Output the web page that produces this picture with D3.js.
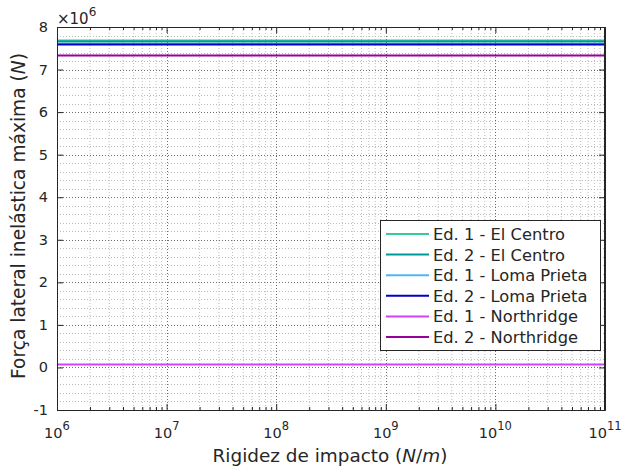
<!DOCTYPE html>
<html>
<head>
<meta charset="utf-8">
<script src="https://cdn.jsdelivr.net/npm/d3@7"></script>
<style>
  body { margin: 0; background: #fff; }
  text { font-family: "DejaVu Sans", Verdana, sans-serif; fill: #262626; }
</style>
</head>
<body>
<script>
// impact stiffness vs max inelastic lateral force, values in units of 1e6 N
var stiffness = [1e6, 1e7, 1e8, 1e9, 1e10, 1e11];
var seriesNames = ["Ed. 1 - El Centro", "Ed. 2 - El Centro", "Ed. 1 - Loma Prieta",
                   "Ed. 2 - Loma Prieta", "Ed. 1 - Northridge", "Ed. 2 - Northridge"];
var seriesColors = ["#33cc99", "#009999", "#4db8f0", "#0000cc", "#cc44ff", "#990099"];
var ed1ElCentro = [7.68, 7.68, 7.68, 7.68, 7.68, 7.68];
var ed2ElCentro = [7.66, 7.66, 7.66, 7.66, 7.66, 7.66];
var ed1LomaPrieta = [7.60, 7.60, 7.60, 7.60, 7.60, 7.60];
var ed2LomaPrieta = [7.59, 7.59, 7.59, 7.59, 7.59, 7.59];
var ed1Northridge = [0.07, 0.07, 0.07, 0.07, 0.07, 0.07];
var ed2Northridge = [7.33, 7.33, 7.33, 7.33, 7.33, 7.33];
var yTicks = [-1, 0, 1, 2, 3, 4, 5, 6, 7, 8];
var xTicks = [1e6, 1e7, 1e8, 1e9, 1e10, 1e11];

var series = [ed1ElCentro, ed2ElCentro, ed1LomaPrieta, ed2LomaPrieta, ed1Northridge, ed2Northridge];

var W = 621, H = 467;
var m = {left: 57, right: 16, top: 27, bottom: 57};
var iw = W - m.left - m.right, ih = H - m.top - m.bottom;

var svg = d3.select('body').append('svg').attr('width', W).attr('height', H);

var x = d3.scaleLog().domain([1e6, 1e11]).range([m.left, m.left + iw]);
var y = d3.scaleLinear().domain([-1, 8]).range([m.top + ih, m.top]);

var g = svg.append('g');

// minor ticks / grid values
var xMinor = [];
for (var e = 6; e < 11; e++) {
  for (var k = 2; k <= 9; k++) xMinor.push(k * Math.pow(10, e));
}
var yMinor = [];
for (var v = -1; v < 8; v++) {
  for (var j = 1; j <= 4; j++) yMinor.push(v + j * 0.2);
}

// minor grid
g.selectAll('.xminor').data(xMinor).enter().append('line')
  .attr('x1', function (d) { return x(d); }).attr('x2', function (d) { return x(d); })
  .attr('y1', m.top).attr('y2', m.top + ih)
  .attr('stroke', '#bdbdbd').attr('stroke-width', 1).attr('stroke-dasharray', '1,2');
g.selectAll('.yminor').data(yMinor).enter().append('line')
  .attr('y1', function (d) { return Math.round(y(d)) + 0.5; }).attr('y2', function (d) { return Math.round(y(d)) + 0.5; })
  .attr('x1', m.left).attr('x2', m.left + iw)
  .attr('stroke', '#bdbdbd').attr('stroke-width', 1).attr('stroke-dasharray', '1,2');

// major grid
g.selectAll('.xmajor').data(xTicks).enter().append('line')
  .attr('x1', function (d) { return Math.round(x(d)) + 0.5; }).attr('x2', function (d) { return Math.round(x(d)) + 0.5; })
  .attr('y1', m.top).attr('y2', m.top + ih)
  .attr('stroke', '#6e6e6e').attr('stroke-width', 1).attr('stroke-dasharray', '1,2');
g.selectAll('.ymajor').data(yTicks).enter().append('line')
  .attr('y1', function (d) { return Math.round(y(d)) + 0.5; }).attr('y2', function (d) { return Math.round(y(d)) + 0.5; })
  .attr('x1', m.left).attr('x2', m.left + iw)
  .attr('stroke', '#6e6e6e').attr('stroke-width', 1).attr('stroke-dasharray', '1,2');

// data lines
var line = d3.line()
  .x(function (d, i) { return x(stiffness[i]); })
  .y(function (d) { return y(d); });

series.forEach(function (s, i) {
  g.append('path').datum(s)
    .attr('d', line)
    .attr('fill', 'none')
    .attr('stroke', seriesColors[i])
    .attr('stroke-width', 2);
});

// axes with inward ticks
var axB = d3.axisBottom(x).tickValues(xTicks).tickSizeInner(-6).tickSizeOuter(0).tickFormat('');
var axT = d3.axisTop(x).tickValues(xTicks).tickSizeInner(-6).tickSizeOuter(0).tickFormat('');
var axBm = d3.axisBottom(x).tickValues(xMinor).tickSizeInner(-3).tickSizeOuter(0).tickFormat('');
var axTm = d3.axisTop(x).tickValues(xMinor).tickSizeInner(-3).tickSizeOuter(0).tickFormat('');
var axL = d3.axisLeft(y).tickValues(yTicks).tickSizeInner(-6).tickSizeOuter(0).tickFormat('');
var axR = d3.axisRight(y).tickValues(yTicks).tickSizeInner(-6).tickSizeOuter(0).tickFormat('');

[[axB, m.top + ih], [axBm, m.top + ih], [axT, m.top], [axTm, m.top]].forEach(function (a) {
  svg.append('g').attr('transform', 'translate(0,' + a[1] + ')').call(a[0])
    .call(function (s) { s.selectAll('path,line').attr('stroke', '#262626'); });
});
[[axL, m.left], [axR, m.left + iw]].forEach(function (a) {
  svg.append('g').attr('transform', 'translate(' + a[1] + ',0)').call(a[0])
    .call(function (s) { s.selectAll('path,line').attr('stroke', '#262626'); });
});

// box
svg.append('rect').attr('x', m.left + 0.5).attr('y', m.top + 0.5)
  .attr('width', iw - 1).attr('height', ih)
  .attr('fill', 'none').attr('stroke', '#262626').attr('stroke-width', 1);

// y tick labels
svg.selectAll('.ylab').data(yTicks).enter().append('text')
  .attr('x', m.left - 9).attr('y', function (d) { return y(d) + 5; })
  .attr('text-anchor', 'end').style('font-size', '14.5px')
  .text(function (d) { return d; });

// x tick labels 10^n
xTicks.forEach(function (d) {
  var t = svg.append('text').attr('x', x(d)).attr('y', m.top + ih + 28)
    .attr('text-anchor', 'middle').style('font-size', '14.5px');
  t.append('tspan').text('10');
  t.append('tspan').attr('dy', -8).style('font-size', '11.5px').text(Math.round(Math.log10(d)));
});

// exponent label
var ex = svg.append('text').attr('x', m.left).attr('y', 24).style('font-size', '15px');
ex.append('tspan').text('\u00d710');
ex.append('tspan').attr('dy', -8).style('font-size', '12px').text('6');

// scale a label's font so it spans about the same width as in the picture
function fitWidth(t, target) {
  var w = t.node().getComputedTextLength();
  var fs = parseFloat(t.style('font-size'));
  if (w > 0) t.style('font-size', (fs * target / w).toFixed(2) + 'px');
}

// axis titles
var xt = svg.append('text').attr('x', 330).attr('y', 462)
  .attr('text-anchor', 'middle').style('font-size', '17px');
xt.append('tspan').text('Rigidez de impacto (');
xt.append('tspan').style('font-style', 'italic').text('N');
xt.append('tspan').text('/');
xt.append('tspan').style('font-style', 'italic').text('m');
xt.append('tspan').text(')');
fitWidth(xt, 235);

var yt = svg.append('text').attr('transform', 'translate(25,216) rotate(-90)')
  .attr('text-anchor', 'middle').style('font-size', '16.5px');
yt.append('tspan').text('For\u00e7a lateral inel\u00e1stica m\u00e1xima (');
yt.append('tspan').style('font-style', 'italic').text('N');
yt.append('tspan').text(')');
fitWidth(yt, 326);

// legend
var lg = svg.append('g').attr('transform', 'translate(380,220)');
lg.append('rect').attr('x', 0.5).attr('y', 0.5).attr('width', 220).attr('height', 130)
  .attr('fill', '#fff').attr('stroke', '#262626').attr('stroke-width', 1);
seriesNames.forEach(function (n, i) {
  var yy = 14 + i * 20.6;
  lg.append('line').attr('x1', 6).attr('x2', 49).attr('y1', yy).attr('y2', yy)
    .attr('stroke', seriesColors[i]).attr('stroke-width', 2);
  lg.append('text').attr('x', 53).attr('y', yy + 6).style('font-size', '16.3px').text(n);
});
</script>
</body>
</html>
